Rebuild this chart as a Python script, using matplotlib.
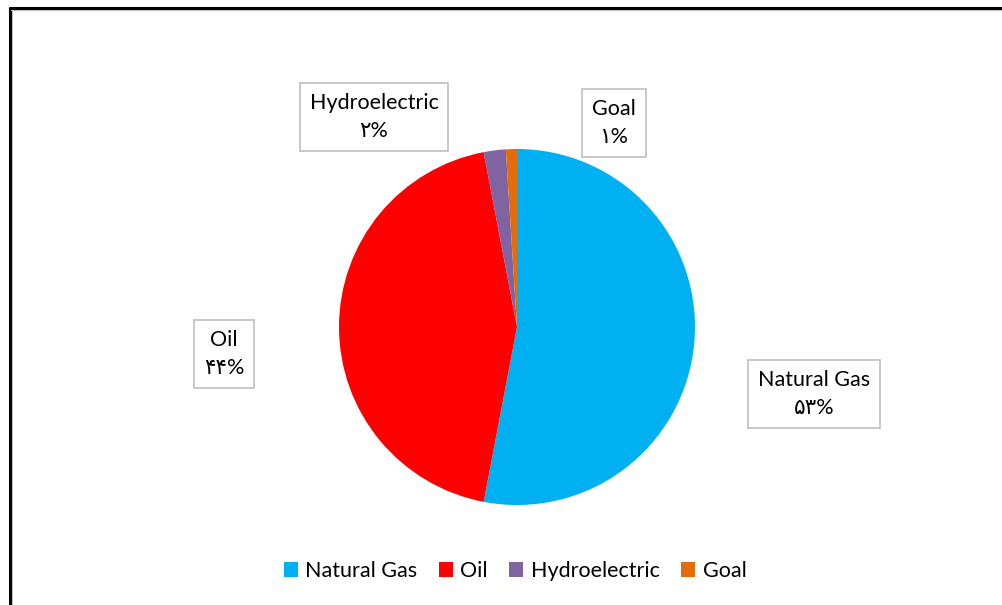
import matplotlib
matplotlib.use("Agg")
import matplotlib.pyplot as plt
from matplotlib.lines import Line2D
from matplotlib.patches import Rectangle

categories = ["Natural Gas", "Oil", "Hydroelectric", "Goal"]
values = [53, 44, 2, 1]
pct_labels = ["۵۳%", "۴۴%", "۲%", "۱%"]
colors = ["#00B0F0", "#FF0000", "#8064A2", "#E46C0A"]

FONT = ["Lato", "DejaVu Sans"]
plt.rcParams["font.family"] = FONT

W, H = 1003, 605
fig = plt.figure(figsize=(W / 100, H / 100), dpi=100)
ax = fig.add_axes([0, 0, 1, 1])
cx, cy, R = 517, 327, 178

wedges, _ = ax.pie(values, colors=colors, startangle=90, counterclock=False,
                   radius=1.0, center=(0, 0), frame=True,
                   wedgeprops=dict(linewidth=0))
ax.set_xlim(-cx / R, (W - cx) / R)
ax.set_ylim((cy - H) / R, cy / R)
ax.set_aspect("auto")
ax.axis("off")

FS = 15.5
# data label positions (pixel centers)
label_pos = {"Natural Gas": (814, 394), "Oil": (224, 354),
             "Hydroelectric": (374, 117), "Goal": (614, 123)}
for cat, pl in zip(categories, pct_labels):
    px, py = label_pos[cat]
    ax.text((px - cx) / R, (cy - py) / R, f"{cat}\n{pl}", ha="center", va="center",
            fontsize=FS, color="#000000", linespacing=1.55, family=FONT,
            bbox=dict(boxstyle="square,pad=0.45", fc="white", ec="#BFBFBF", lw=1.2))

handles = [Rectangle((0, 0), 1, 1, fc=c, ec="none") for c in colors]
fig.legend(handles, categories, loc="center", bbox_to_anchor=(515 / W, 1 - 571 / H),
           ncol=4, frameon=False, handlelength=0.65, handleheight=0.65,
           handletextpad=0.35, columnspacing=1.0, prop={"family": FONT, "size": FS})

# outer frame lines (top and left)
fig.add_artist(Line2D([9 / W, 1], [1 - 7.8 / H, 1 - 7.8 / H], color="black", lw=2.2,
                      transform=fig.transFigure, solid_capstyle="butt"))
fig.add_artist(Line2D([10 / W, 10 / W], [0, 1 - 7 / H], color="black", lw=2.2,
                      transform=fig.transFigure, solid_capstyle="butt"))
fig.add_artist(Line2D([11.5 / W, 1], [1 - 10 / H, 1 - 10 / H], color="#BFBFBF", lw=0.8,
                      transform=fig.transFigure))
fig.add_artist(Line2D([11.8 / W, 11.8 / W], [0, 1 - 10 / H], color="#BFBFBF", lw=0.8,
                      transform=fig.transFigure))

fig.savefig("out.png", dpi=100)
